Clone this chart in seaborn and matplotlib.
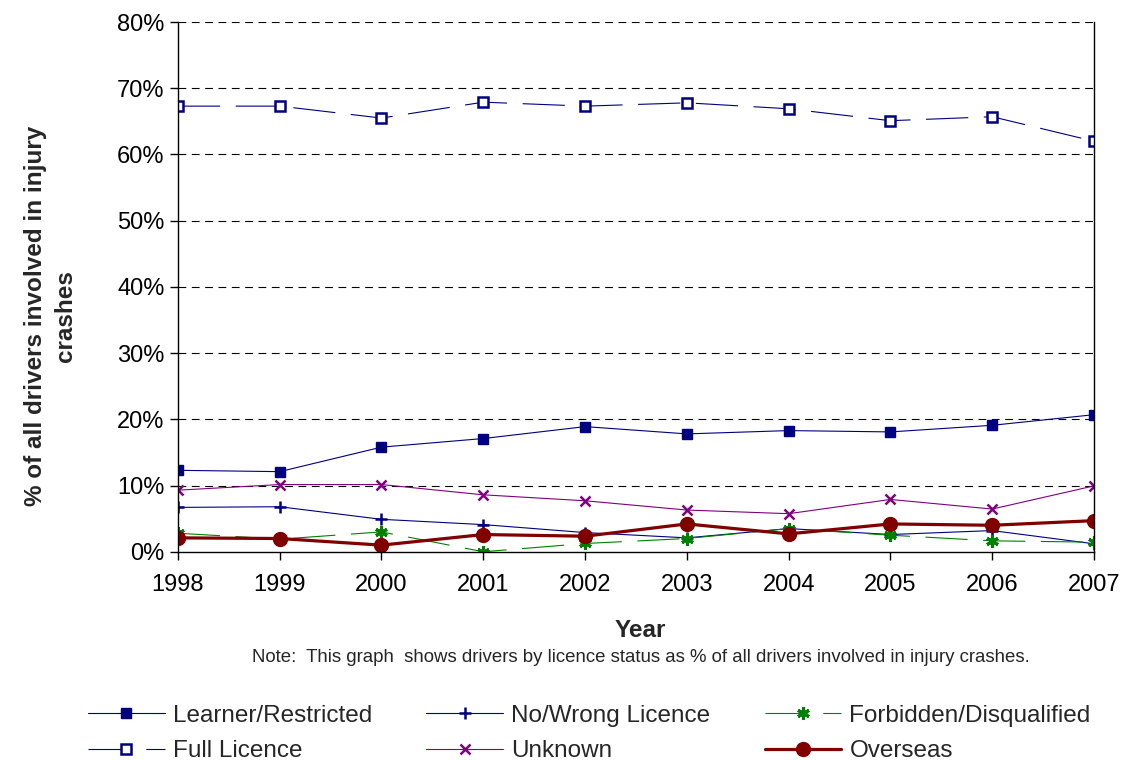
import matplotlib
matplotlib.use('Agg')
import matplotlib.pyplot as plt
import seaborn as sns
import pandas as pd
from matplotlib.ticker import PercentFormatter

# dados (% de todos os motoristas envolvidos em acidentes com feridos)
years = [1998, 1999, 2000, 2001, 2002, 2003, 2004, 2005, 2006, 2007]
learner = [12.3, 12.1, 15.8, 17.1, 18.9, 17.8, 18.3, 18.1, 19.1, 20.7]
no_wrong = [6.7, 6.8, 4.9, 4.1, 2.9, 2.1, 3.5, 2.6, 3.2, 1.2]
forbidden = [2.8, 1.9, 3.0, 0.0, 1.25, 2.0, 3.5, 2.5, 1.65, 1.45]
full = [67.3, 67.3, 65.5, 67.9, 67.3, 67.8, 66.9, 65.1, 65.7, 62.0]
unknown = [9.3, 10.15, 10.15, 8.6, 7.7, 6.3, 5.75, 7.9, 6.45, 9.95]
overseas = [2.1, 2.0, 1.0, 2.6, 2.35, 4.2, 2.7, 4.2, 4.0, 4.7]

df = pd.DataFrame({'Year': years, 'Learner/Restricted': learner, 'No/Wrong Licence': no_wrong,
                   'Forbidden/Disqualified': forbidden, 'Full Licence': full,
                   'Unknown': unknown, 'Overseas': overseas})

sns.set_style('white')
plt.rcParams['font.family'] = ['Liberation Sans', 'DejaVu Sans']

fig = plt.figure(figsize=(11.26, 7.6), dpi=100)
ax = fig.add_axes([0.158, 0.274, 0.9716 - 0.158, 0.971 - 0.274])

navy = '#000080'
green = '#008000'
purple = '#800080'
maroon = '#800000'
long_dash = (0, (38, 14))
styles = {
    'Learner/Restricted': dict(color=navy, marker='s', markersize=6.5, markerfacecolor=navy,
                               markeredgecolor=navy, markeredgewidth=1, lw=0.8, linestyle='-'),
    'No/Wrong Licence': dict(color=navy, marker='+', markersize=8, markeredgecolor=navy,
                             markeredgewidth=1.8, lw=0.8, linestyle='-'),
    'Forbidden/Disqualified': dict(color=green, marker=(6, 2, 0), markersize=9, markeredgecolor=green,
                                   markeredgewidth=2.2, lw=0.8, linestyle=long_dash),
    'Full Licence': dict(color=navy, marker='s', markersize=7.5, markerfacecolor='white',
                         markeredgecolor=navy, markeredgewidth=1.8, lw=0.8, linestyle=long_dash),
    'Unknown': dict(color=purple, marker='x', markersize=7, markeredgecolor=purple,
                    markeredgewidth=1.8, lw=0.8, linestyle='-'),
    'Overseas': dict(color=maroon, marker='o', markersize=10, markerfacecolor=maroon,
                     markeredgecolor=maroon, markeredgewidth=1, lw=2.3, linestyle='-'),
}

handles = {}
for name, st in styles.items():
    sns.lineplot(data=df, x='Year', y=name, ax=ax, label=name, **st)
    handles[name] = ax.get_lines()[-1]
ax.get_legend().remove()

ax.set_xlim(1998, 2007)
ax.set_ylim(0, 80)
ax.set_xticks(years)
ax.set_yticks(range(0, 81, 10))
ax.yaxis.set_major_formatter(PercentFormatter(100, decimals=0))
for y in range(10, 81, 10):
    ax.axhline(y, color='black', lw=0.8, linestyle=(0, (7, 5)), zorder=0)

for s in ['left', 'bottom', 'right']:
    ax.spines[s].set_color('black')
    ax.spines[s].set_linewidth(1)
ax.spines['top'].set_visible(False)
ax.tick_params(axis='both', direction='out', length=6, width=1, labelsize=17, colors='black', left=True, bottom=True)
ax.tick_params(axis='x', pad=10)

ax.set_xlabel('Year', fontsize=17.5, fontweight='bold')
ax.xaxis.set_label_coords(0.505, -0.126)
ax.set_ylabel('% of all drivers involved in injury\ncrashes', fontsize=17.5, fontweight='bold', linespacing=1.4)
ax.yaxis.set_label_coords(-0.11, 0.445)

fig.text(0.569, 0.1355, 'Note:  This graph  shows drivers by licence status as % of all drivers involved in injury crashes.',
         ha='center', va='center', fontsize=13.4)

order = ['Learner/Restricted', 'Full Licence', 'No/Wrong Licence', 'Unknown', 'Forbidden/Disqualified', 'Overseas']
fig.legend([handles[n] for n in order], order, loc='center left', bbox_to_anchor=(0.0587, 0.035),
           ncol=3, frameon=False, fontsize=17.5, handlelength=3.15, handletextpad=0.33,
           columnspacing=2.25, labelspacing=0.55)

plt.savefig('out.png', dpi=100)
